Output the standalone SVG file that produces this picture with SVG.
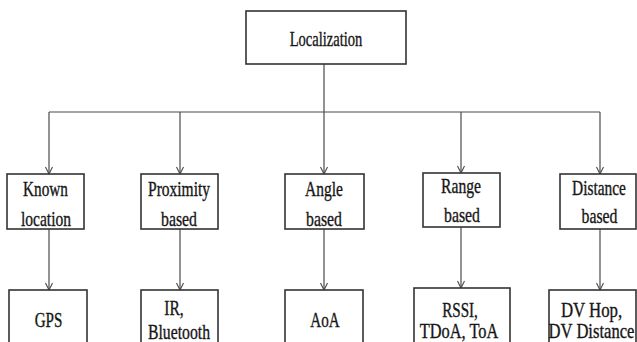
<svg xmlns="http://www.w3.org/2000/svg" width="637" height="342" viewBox="0 0 637 342">
<style>
.box{fill:#fff;stroke:#333;stroke-width:1.6}
.t{font-family:"Liberation Serif","DejaVu Serif",serif;font-size:21px;fill:#161616;stroke:#161616;stroke-width:0.35;text-anchor:middle}
.c{stroke:#4a4a4a;stroke-width:1.2;fill:none}
</style>
<defs>
<marker id="ah" viewBox="-1 -5 10 10" refX="7" refY="0" markerWidth="10" markerHeight="10" markerUnits="userSpaceOnUse" orient="auto">
<path d="M0,-3.5 L7,0 L0,3.5" fill="none" stroke="#4a4a4a" stroke-width="1.1"/>
</marker>
</defs>
<rect width="637" height="342" fill="#fff"/>
<g id="connectors">
<line class="c" x1="324" y1="64" x2="324" y2="112"/>
<line class="c" x1="49" y1="112" x2="600" y2="112"/>
<line class="c" x1="49" y1="112" x2="49" y2="174" marker-end="url(#ah)"/>
<line class="c" x1="180" y1="112" x2="180" y2="174" marker-end="url(#ah)"/>
<line class="c" x1="324" y1="112" x2="324" y2="174" marker-end="url(#ah)"/>
<line class="c" x1="461" y1="112" x2="461" y2="173" marker-end="url(#ah)"/>
<line class="c" x1="600" y1="112" x2="600" y2="174" marker-end="url(#ah)"/>
<line class="c" x1="49" y1="229" x2="49" y2="290" marker-end="url(#ah)"/>
<line class="c" x1="180" y1="229" x2="180" y2="290" marker-end="url(#ah)"/>
<line class="c" x1="324" y1="229" x2="324" y2="290" marker-end="url(#ah)"/>
<line class="c" x1="461" y1="227" x2="461" y2="288" marker-end="url(#ah)"/>
<line class="c" x1="600" y1="229" x2="600" y2="290" marker-end="url(#ah)"/>
</g>
<g id="localization">
<rect class="box" x="246" y="11" width="160" height="53"/>
<text class="t" transform="translate(326,46) scale(0.693,1)" font-size="22.5">Localization</text>
</g>
<g id="known-location">
<rect class="box" x="7" y="174" width="77" height="55"/>
<text class="t" transform="translate(45.5,196) scale(0.728,1)">Known</text>
<text class="t" transform="translate(46,226) scale(0.739,1)">location</text>
</g>
<g id="proximity-based">
<rect class="box" x="141" y="174" width="77" height="55"/>
<text class="t" transform="translate(179,196) scale(0.738,1)">Proximity</text>
<text class="t" transform="translate(179,226) scale(0.753,1)">based</text>
</g>
<g id="angle-based">
<rect class="box" x="285" y="174" width="79" height="55"/>
<text class="t" transform="translate(324,196) scale(0.74,1)">Angle</text>
<text class="t" transform="translate(324,226) scale(0.753,1)">based</text>
</g>
<g id="range-based">
<rect class="box" x="423" y="173" width="77" height="54"/>
<text class="t" transform="translate(461,193) scale(0.745,1)">Range</text>
<text class="t" transform="translate(462,222) scale(0.753,1)">based</text>
</g>
<g id="distance-based">
<rect class="box" x="560" y="174" width="76" height="55"/>
<text class="t" transform="translate(599,195) scale(0.735,1)">Distance</text>
<text class="t" transform="translate(599.5,223) scale(0.753,1)">based</text>
</g>
<g id="gps">
<rect class="box" x="9" y="290" width="78" height="62"/>
<text class="t" transform="translate(48.5,327) scale(0.72,1)">GPS</text>
</g>
<g id="ir-bluetooth">
<rect class="box" x="141" y="290" width="77" height="62"/>
<text class="t" transform="translate(174,315) scale(0.74,1)">IR,</text>
<text class="t" transform="translate(179,339) scale(0.749,1)">Bluetooth</text>
</g>
<g id="aoa">
<rect class="box" x="285" y="290" width="78" height="62"/>
<text class="t" transform="translate(325,327) scale(0.72,1)">AoA</text>
</g>
<g id="rssi">
<rect class="box" x="414" y="288" width="96" height="64"/>
<text class="t" transform="translate(460,317) scale(0.72,1)">RSSI,</text>
<text class="t" transform="translate(459,338) scale(0.78,1)">TDoA, ToA</text>
</g>
<g id="dv">
<rect class="box" x="549" y="290" width="87" height="62"/>
<text class="t" transform="translate(591.5,317) scale(0.8,1)">DV Hop,</text>
<text class="t" transform="translate(591.5,338) scale(0.79,1)">DV Distance</text>
</g>
</svg>
